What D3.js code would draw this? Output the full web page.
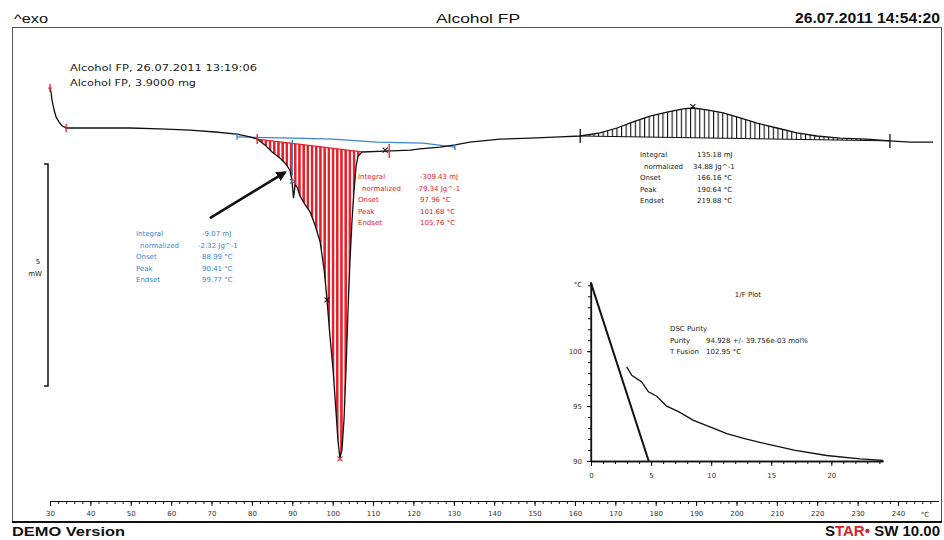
<!DOCTYPE html>
<html><head><meta charset="utf-8">
<script src="https://cdn.jsdelivr.net/npm/d3@7"></script>
<style>body{margin:0;background:#fff}svg{display:block}text{font-family:"DejaVu Sans",sans-serif}</style>
</head><body><svg id="c" width="944" height="540"></svg>
<script>
// ---------- data ----------
const mainTemp = [30.0,30.25,30.5,31.0,31.5,32.2,33.0,34.0,42.4,49.8,57.2,64.7,70.9,76.3,79.5,81.3,83.2,85.0,87.0,88.4,89.4,89.9,90.3,90.7,91.2,91.9,93.2,94.4,95.6,96.9,97.9,98.6,99.3,100.1,100.8,101.3,101.8,102.3,102.8,103.3,103.8,104.3,104.8,105.3,105.8,106.3,107.3,113.0,119.2,121.6,126.6,130.3,134.0,141.4,148.9,156.3,161.3,166.2,170.4,174.4,178.6,182.8,186.8,189.2,192.7,196.7,200.9,205.1,210.0,215.0,219.9,225.6,232.3,238.0,243.0,248.7];
const mainHeat = [0.90,0.81,0.63,0.41,0.25,0.14,0.05,0.00,0.00,0.00,-0.02,-0.05,-0.09,-0.14,-0.20,-0.25,-0.38,-0.54,-0.68,-0.81,-0.95,-1.17,-1.58,-1.28,-1.33,-1.53,-1.73,-1.89,-2.18,-2.57,-3.20,-3.87,-4.66,-5.45,-6.35,-7.03,-7.43,-7.25,-6.58,-5.45,-4.10,-2.97,-2.07,-1.40,-0.86,-0.63,-0.54,-0.52,-0.50,-0.47,-0.43,-0.38,-0.32,-0.25,-0.23,-0.20,-0.18,-0.11,0.00,0.14,0.27,0.36,0.43,0.45,0.41,0.34,0.23,0.11,0.00,-0.11,-0.18,-0.23,-0.25,-0.29,-0.32,-0.32];
const blueBaseTemp = [76.3,90.2,100.1,111.0,122.4,130.3];
const blueBaseHeat = [-0.20,-0.23,-0.25,-0.32,-0.34,-0.43];
const redLimits = [81.3,107.3];
const exoLimits = [161.3,238.0];
const scaleBar = [-0.81,-5.81]; // 5 mW
const xMajorTicks = [30,40,50,60,70,80,90,100,110,120,130,140,150,160,170,180,190,200,210,220,230,240];
const blueLabels = ["Integral"," normalized","Onset","Peak","Endset"];
const blueValues = ["-9.07 mJ","-2.32 Jg^-1","88.99 °C","90.41 °C","99.77 °C"];
const redLabels = ["Integral"," normalized","Onset","Peak","Endset"];
const redValues = ["-309.43 mJ","-79.34 Jg^-1","97.96 °C","101.68 °C","105.76 °C"];
const exoLabels = ["Integral"," normalized","Onset","Peak","Endset"];
const exoValues = ["135.18 mJ","34.88 Jg^-1","166.16 °C","190.64 °C","219.88 °C"];
const insetLineX = [0,4.8];
const insetLineY = [106.2,90];
const insetCurveX = [2.97,3.39,4.22,4.78,5.47,6.3,7.28,8.53,9.9,11.3,12.7,14.6,16.9,19.6,22.4,24.3];
const insetCurveY = [98.57,97.8,97.2,96.3,95.9,95.0,94.5,93.7,93.1,92.5,92.07,91.55,91.0,90.5,90.2,90.05];
const insetXTicks = [0,5,10,15,20];
const insetYTicks = [90,95,100];
const purityLines = [["DSC Purity",""],["Purity","94.928 +/- 39.756e-03 mol%"],["T Fusion","102.95 °C"]];

// ---------- drawing ----------
const svg = d3.select("#c");
const RED = "#e8202a", BLUE = "#3a86d4", INK = "#111";
const x = d3.scaleLinear().domain([30,250]).range([50,938.4]);
const y = d3.scaleLinear().domain([0,-5]).range([128,350]);
const pts = mainTemp.map((t,i)=>[t,mainHeat[i]]);
const line = d3.line().x(d=>x(d[0])).y(d=>y(d[1]));

// frame
svg.append("rect").attr("x",12.5).attr("y",27.5).attr("width",929).attr("height",494.5)
  .attr("fill","none").attr("stroke","#555").attr("stroke-width",1);
svg.append("line").attr("x1",12).attr("x2",942).attr("y1",522).attr("y2",522).attr("stroke",INK).attr("stroke-width",2);

function txt(s,xx,yy,o={}){const t=svg.append("text").attr("x",xx).attr("y",yy).text(s)
  .attr("font-size",o.fs||7).attr("fill",o.fill||"#222").attr("text-anchor",o.anchor||"start");
  if(o.fw) t.attr("font-weight",o.fw); if(o.ff) t.style("font-family",o.ff);
  if(o.len) t.attr("textLength",o.len).attr("lengthAdjust","spacingAndGlyphs"); return t;}
// header
txt("^exo",14,23,{fs:13,fill:"#111",ff:"Liberation Sans",len:34});
txt("Alcohol FP",478,23,{fs:13,fill:"#111",ff:"Liberation Sans",anchor:"middle",len:84});
txt("26.07.2011 14:54:20",940,23,{fs:14,fill:"#111",ff:"Liberation Sans",anchor:"end",len:145,fw:"bold"});
txt("Alcohol FP, 26.07.2011 13:19:06",70,71,{fs:9.5,fill:"#222",len:187});
txt("Alcohol FP, 3.9000 mg",70,86,{fs:9.5,fill:"#222",len:126});

// patterns
const defs = svg.append("defs");
const pr = defs.append("pattern").attr("id","redHatch").attr("patternUnits","userSpaceOnUse").attr("width",4.2).attr("height",8);
pr.append("rect").attr("x",0).attr("y",0).attr("width",2.5).attr("height",8).attr("fill",RED);
const pb = defs.append("pattern").attr("id","blkHatch").attr("patternUnits","userSpaceOnUse").attr("width",4.6).attr("height",8);
pb.append("rect").attr("x",0).attr("y",0).attr("width",1.1).attr("height",8).attr("fill",INK);
defs.append("marker").attr("id","arr").attr("viewBox","0 0 10 10").attr("refX",8).attr("refY",5)
  .attr("markerWidth",4).attr("markerHeight",4).attr("orient","auto")
  .append("path").attr("d","M0,0L10,5L0,10z").attr("fill",INK);

// hatched areas
const redPts = pts.filter(d=>d[0]>=redLimits[0]&&d[0]<=redLimits[1]);
svg.append("path").attr("d",line(redPts)+"Z").attr("fill","url(#redHatch)");
const exoPts = pts.filter(d=>d[0]>=exoLimits[0]&&d[0]<=exoLimits[1]);
svg.append("path").attr("d",line(exoPts)+"Z").attr("fill","url(#blkHatch)");

// baselines
svg.append("path").attr("d",line(blueBaseTemp.map((t,i)=>[t,blueBaseHeat[i]]))).attr("fill","none").attr("stroke",BLUE).attr("stroke-width",1.3);
svg.append("path").attr("d",line([redPts[0],redPts[redPts.length-1]])).attr("fill","none").attr("stroke",RED).attr("stroke-width",1.3);
svg.append("path").attr("d",line([exoPts[0],exoPts[exoPts.length-1]])).attr("fill","none").attr("stroke",INK).attr("stroke-width",1);
svg.append("line").attr("x1",x(90.0)).attr("x2",x(90.0)).attr("y1",y(-0.27)).attr("y2",y(-1.06)).attr("stroke",BLUE).attr("stroke-width",1.5);

// main curve
svg.append("path").attr("d",line(pts)).attr("fill","none").attr("stroke",INK).attr("stroke-width",1.3);

// markers
function vmark(t,h,col,len){svg.append("line").attr("x1",x(t)).attr("x2",x(t)).attr("y1",y(h)-len).attr("y2",y(h)+len).attr("stroke",col).attr("stroke-width",1.3);}
function xmark(t,h,col){const cx=x(t),cy=y(h);svg.append("path").attr("d",`M${cx-2.5},${cy-2.5}L${cx+2.5},${cy+2.5}M${cx-2.5},${cy+2.5}L${cx+2.5},${cy-2.5}`).attr("stroke",col).attr("stroke-width",1.1);}
vmark(30,0.90,RED,4); svg.append("line").attr("x1",x(30)-2).attr("x2",x(30)+2).attr("y1",y(0.9)).attr("y2",y(0.9)).attr("stroke",RED);
vmark(34,0,RED,4);
vmark(81.3,-0.25,RED,5); vmark(114.0,-0.52,RED,7); xmark(113.0,-0.5,INK);
vmark(76.3,-0.2,BLUE,3); vmark(130.3,-0.43,BLUE,3);
xmark(101.8,-7.45,RED); xmark(98.6,-3.87,INK); xmark(90.0,-1.2,BLUE);
vmark(161.3,-0.18,INK,7); vmark(238,-0.29,INK,7); xmark(189.2,0.48,INK);

// arrow
svg.append("line").attr("x1",x(69.6)).attr("y1",y(-2.03)).attr("x2",x(88.2)).attr("y2",y(-1.0))
  .attr("stroke",INK).attr("stroke-width",2.6).attr("marker-end","url(#arr)");

// annotation boxes
function box(labels,values,x0,xv,y0,col){labels.forEach((l,i)=>{
  txt(l,x0+(l.startsWith(" ")?4:0),y0+i*11.6,{fs:7,fill:col});
  txt(values[i],i===1?xv-4:xv,y0+i*11.6,{fs:7,fill:col});});}
box(blueLabels,blueValues,136,202,236,BLUE);
box(redLabels,redValues,358,420,179,RED);
box(exoLabels,exoValues,640,697,157,"#222");

// 5 mW scale bar
svg.append("path").attr("d",`M44,${y(scaleBar[0])}H48V${y(scaleBar[1])}H44`).attr("fill","none").attr("stroke",INK).attr("stroke-width",1.5);
txt("5",38,264,{fs:7,anchor:"middle"});
txt("mW",35,276,{fs:7,anchor:"middle"});

// main x axis
const ax = svg.append("g").attr("transform","translate(0,501)");
ax.call(d3.axisBottom(x).tickValues(d3.range(30,250,2)).tickSize(3).tickSizeOuter(0).tickFormat(""));
ax.append("g").call(d3.axisBottom(x).tickValues(xMajorTicks).tickSize(5).tickSizeOuter(0).tickPadding(5).tickFormat(d3.format("d")));
ax.selectAll("path.domain").attr("stroke",INK).attr("stroke-width",1.2);
ax.selectAll("line").attr("stroke",INK);
ax.selectAll("text").attr("font-size",7).attr("fill","#333").style("font-family","DejaVu Sans");
txt("°C",925,517,{fs:7,anchor:"middle",fill:"#333"});

// inset 1/F plot
const xi = d3.scaleLinear().domain([0,24.3]).range([591,883]);
const yi = d3.scaleLinear().domain([90,106.3]).range([461,282]);
const gi = svg.append("g");
const ixa = gi.append("g").attr("transform","translate(0,461)");
ixa.call(d3.axisBottom(xi).tickValues(d3.range(0,25,1)).tickSize(3).tickSizeOuter(0).tickFormat(""));
ixa.append("g").call(d3.axisBottom(xi).tickValues(insetXTicks).tickSize(5).tickSizeOuter(0).tickPadding(7).tickFormat(d3.format("d")));
const iya = gi.append("g").attr("transform","translate(591,0)");
iya.call(d3.axisLeft(yi).tickValues(d3.range(90,107,1)).tickSize(3).tickSizeOuter(0).tickFormat(""));
iya.append("g").call(d3.axisLeft(yi).tickValues(insetYTicks).tickSize(4).tickSizeOuter(0).tickPadding(5).tickFormat(d3.format("d")));
iya.select("path.domain").attr("d",`M0,${yi(106.3)}V${yi(90)}`);
gi.selectAll("path.domain").attr("stroke",INK).attr("stroke-width",1.3);
gi.selectAll("line").attr("stroke",INK);
gi.selectAll("text").attr("font-size",7).attr("fill","#333").style("font-family","DejaVu Sans");
txt("°C",578,287,{fs:7,anchor:"middle",fill:"#333"});
const li = d3.line().x(d=>xi(d[0])).y(d=>yi(d[1]));
gi.append("path").attr("d",li(insetLineX.map((v,i)=>[v,insetLineY[i]]))).attr("fill","none").attr("stroke",INK).attr("stroke-width",2);
gi.append("path").attr("d",li(insetCurveX.map((v,i)=>[v,insetCurveY[i]]))).attr("fill","none").attr("stroke",INK).attr("stroke-width",1.3);
txt("1/F Plot",748,297,{fs:7,anchor:"middle"});
purityLines.forEach((p,i)=>{txt(p[0],670,331+i*11.5,{fs:7}); if(p[1]) txt(p[1],706,331+i*11.5,{fs:7});});

// footer
txt("DEMO Version",12,536,{fs:12.5,fw:"bold",fill:"#111",ff:"Liberation Sans",len:113});
const st = svg.append("text").attr("x",940).attr("y",536).attr("text-anchor","end").attr("font-size",15).attr("font-weight","bold").style("font-family","Liberation Sans");
st.append("tspan").text("S").attr("fill","#111");
st.append("tspan").text("TAR").attr("fill","#d8232a");
st.append("tspan").text("• ").attr("fill","#d8232a");
st.append("tspan").text("SW 10.00").attr("fill","#111");
</script></body></html>
